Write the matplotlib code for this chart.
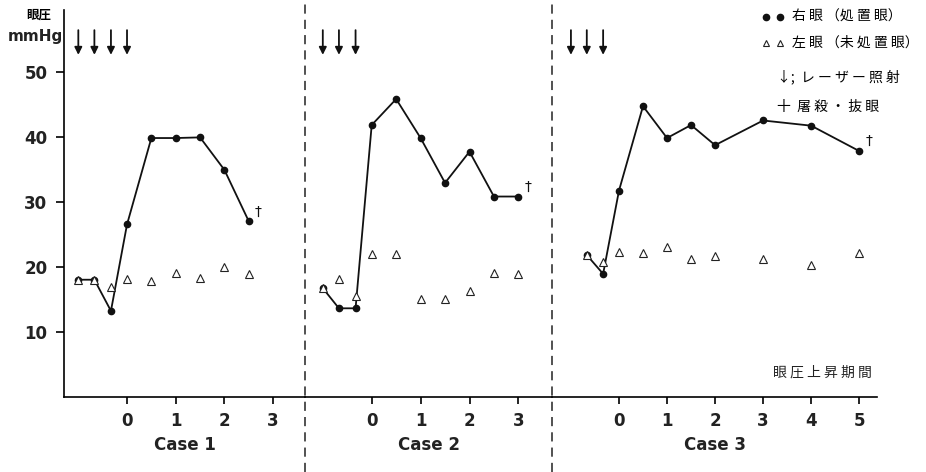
import numpy as np
import matplotlib
matplotlib.use('Agg')
import matplotlib.pyplot as plt
from matplotlib.lines import Line2D

jp = ['Noto Sans CJK JP', 'DejaVu Sans']

# case 1
c1_x = [-1, -0.67, -0.33, 0, 0.5, 1, 1.5, 2, 2.5]
c1_right = [18.0, 18.0, 13.2, 26.5, 39.8, 39.8, 39.9, 34.9, 27.0]
c1_left = [18.0, 18.0, 16.9, 18.1, 17.8, 19.0, 18.2, 20.0, 18.9]
c1_laser = [-1, -0.67, -0.33, 0]
c1_ticks = [0, 1, 2, 3]

# case 2
c2_x = [-1, -0.67, -0.33, 0, 0.5, 1, 1.5, 2, 2.5, 3]
c2_right = [16.7, 13.6, 13.6, 41.8, 45.8, 39.8, 32.9, 37.7, 30.8, 30.8]
c2_left = [16.7, 18.1, 15.5, 21.9, 21.9, 15.1, 15.1, 16.3, 19.0, 18.9]
c2_laser = [-1, -0.67, -0.33]
c2_ticks = [0, 1, 2, 3]

# case 3
c3_x = [-0.67, -0.33, 0, 0.5, 1, 1.5, 2, 3, 4, 5]
c3_right = [21.8, 18.9, 31.7, 44.7, 39.8, 41.8, 38.7, 42.5, 41.7, 37.8]
c3_left = [21.8, 20.8, 22.2, 22.1, 23.1, 21.2, 21.6, 21.2, 20.2, 22.1]
c3_laser = [-1, -0.67, -0.33]
c3_ticks = [0, 1, 2, 3, 4, 5]

cases = [
    ('Case 1', c1_x, c1_right, c1_left, c1_laser, c1_ticks, (-1.294, 3.655)),
    ('Case 2', c2_x, c2_right, c2_left, c2_laser, c2_ticks, (-1.364, 3.687)),
    ('Case 3', c3_x, c3_right, c3_left, c3_laser, c3_ticks, (-1.394, 5.37)),
]

W, H = 926, 472
fig = plt.figure(figsize=(W / 100, H / 100), dpi=100)

bottom = (H - 396.7) / H
height = (396.7 - 10) / H
edges = [64, 305, 552, 877]
ylim = (0, 59.5)

axes = []
for i, (name, xs, right, left, laser, ticks, xlim) in enumerate(cases):
    ax = fig.add_axes([edges[i] / W, bottom, (edges[i + 1] - edges[i]) / W, height])
    ax.set_xlim(*xlim)
    ax.set_ylim(*ylim)
    ax.patch.set_alpha(0)
    for s in ['top', 'right']:
        ax.spines[s].set_visible(False)
    if i > 0:
        ax.spines['left'].set_visible(False)
        ax.set_yticks([])
    else:
        ax.set_yticks([10, 20, 30, 40, 50])
        ax.tick_params(axis='y', length=6, width=1.2, pad=6)
        for lab in ax.get_yticklabels():
            lab.set_fontweight('bold')
            lab.set_fontsize(12)
            lab.set_color('#222222')
    ax.spines['bottom'].set_linewidth(1.2)
    ax.spines['left'].set_linewidth(1.2)
    ax.set_xticks(ticks)
    ax.set_xticklabels([str(t) for t in ticks], fontsize=12, fontweight='bold', color='#222222')
    ax.tick_params(axis='x', length=5, width=1.2, pad=6)

    ax.plot(xs, right, '-', color='#111111', lw=1.3, marker='o', ms=4.5, zorder=3)
    ax.plot(xs, left, linestyle='none', marker='^', ms=5.5, mfc='white', mec='#222222', mew=0.8, zorder=4)

    for lx in laser:
        ax.annotate('', xy=(lx, 52.6), xytext=(lx, 56.4),
                    arrowprops=dict(arrowstyle='-|>', color='#111111', lw=1.3,
                                    mutation_scale=11, shrinkA=0, shrinkB=0))

    ax.text(xs[-1] + 0.2, right[-1] + 1.5, '†', fontsize=10,
            ha='center', va='center', color='#111111')

    ax.set_xlabel(name, fontsize=12, fontweight='bold', color='#222222', labelpad=4)
    axes.append(ax)

# dashed separators
for xp in [305, 552]:
    fig.add_artist(Line2D([xp / W, xp / W], [0, 1 - 4 / H], transform=fig.transFigure,
                          color='#222222', lw=1.1, linestyle=(0, (6, 4))))

# axis titles
fig.text(39 / W, 1 - 15 / H, '眼圧', family=jp, fontsize=9, fontweight='bold', ha='center', va='center')
fig.text(35 / W, 1 - 36 / H, 'mmHg', fontsize=11, fontweight='bold', ha='center', va='center',
         color='#222222')
fig.text(872 / W, 1 - 373 / H, '眼 圧 上 昇 期 間', family=jp, fontsize=10, ha='right', va='center',
         color='#222222')

# legend
fig.add_artist(Line2D([766 / W, 780 / W], [1 - 17 / H] * 2, transform=fig.transFigure,
                      linestyle='none', marker='o', ms=4.5, color='#111111'))
fig.add_artist(Line2D([766 / W, 780 / W], [1 - 43 / H] * 2, transform=fig.transFigure,
                      linestyle='none', marker='^', ms=5, mfc='white', mec='#222222', mew=0.8))
fig.text(792 / W, 1 - 17 / H, '右 眼 （処 置 眼）', family=jp, fontsize=10, ha='left', va='center')
fig.text(792 / W, 1 - 43 / H, '左 眼 （未 処 置 眼）', family=jp, fontsize=10, ha='left', va='center')
fig.text(777 / W, 1 - 77 / H, '↓;  レ ー ザ ー 照 射', family=jp, fontsize=10, ha='left', va='center')
fig.text(777 / W, 1 - 107 / H, '十  屠 殺 ・ 抜 眼', family=jp, fontsize=10, ha='left', va='center')

fig.savefig('out.png', dpi=100)
